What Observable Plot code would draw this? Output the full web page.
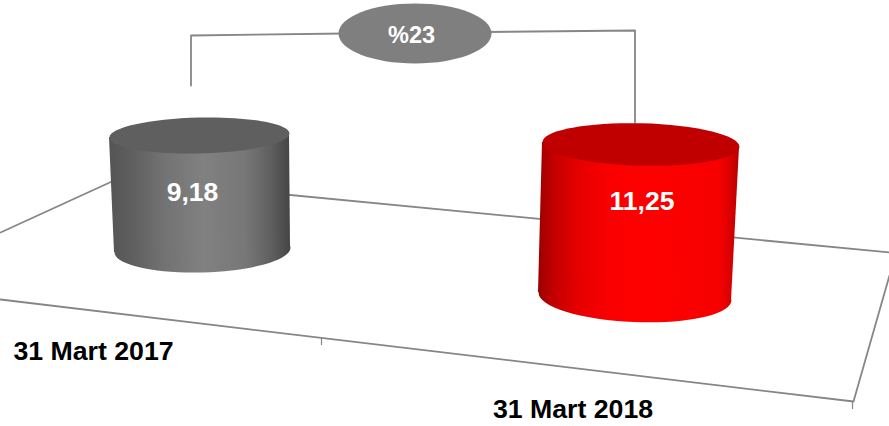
<!DOCTYPE html>
<html>
<head>
<meta charset="utf-8">
<script src="https://cdn.jsdelivr.net/npm/d3@7"></script>
<script src="https://cdn.jsdelivr.net/npm/@observablehq/plot@0.6"></script>
<style>
html,body{margin:0;padding:0;background:#fff;overflow:hidden}
svg{display:block}
</style>
</head>
<body>
<div id="chart"></div>
<script>
const categories = ["31 Mart 2017", "31 Mart 2018"];
const values = [9.18, 11.25];
const changeLabel = "%23";

// Readings from the picture, in the chart's own position frame
const categoryX = [93, 572.5];
const categoryY = [359.5, 417.5];
const valueX = [192, 641.5];
const valueY = [200.5, 209.5];
const topX = [199, 640.5];
const topY = [135, 144];
const baseX = [202, 634.5];
const baseY = [249.5, 296];
const bodyLeftX = [[109, 114], [542, 538]];
const bodyLeftY = [[137, 252], [142, 292]];
const bodyRightX = [[289, 290], [739, 731]];
const bodyRightY = [[133, 247], [147, 300]];
const topRx = [90, 98.5];
const baseRx = [88, 96.5];
const topAspect = [0.2, 0.215];
const baseAspect = [0.255, 0.265];
const topTilt = [-1.3, 1.5];
const baseTilt = [-1.6, 2.4];
const topFill = ["#5f5f5f", "#c00000"];
const bodyFill = ["url(#g0)", "url(#g1)"];
const baseFill = ["url(#b0)", "url(#b1)"];

const floorX = [0, 118, 889];
const floorY = [232, 178, 252];
const frontX = [0, 853, 889];
const frontY = [299, 401, 275];
const tickX = [321, 852];
const tickY1 = [337, 401];
const tickY2 = [345, 409];
const bracketLeftX = [190.5, 190.5, 345];
const bracketLeftY = [85, 35, 33];
const bracketRightX = [485, 634.5, 634.5];
const bracketRightY = [31.5, 30, 122];
const badge = {x: 414.5, y: 33, rx: 76.5, aspect: 0.392, labelX: 411, labelY: 42.5};

const ellipseSymbol = (aspect) => ({
  draw(ctx, size) {
    const r = Math.sqrt(size / Math.PI), ry = r * aspect, k = 0.5522848;
    ctx.moveTo(-r, 0);
    ctx.bezierCurveTo(-r, -ry * k, -r * k, -ry, 0, -ry);
    ctx.bezierCurveTo(r * k, -ry, r, -ry * k, r, 0);
    ctx.bezierCurveTo(r, ry * k, r * k, ry, 0, ry);
    ctx.bezierCurveTo(-r * k, ry, -r, ry * k, -r, 0);
    ctx.closePath();
  }
});

const gradients = () => {
  const ns = "http://www.w3.org/2000/svg";
  const defs = document.createElementNS(ns, "defs");
  const sets = [
    [[0, "#555555"], [0.12, "#5e5e5e"], [0.3, "#727272"], [0.52, "#818181"], [0.75, "#777777"], [0.9, "#5e5e5e"], [1, "#444444"]],
    [[0, "#9c0000"], [0.08, "#c40000"], [0.2, "#e60000"], [0.35, "#fa0000"], [0.55, "#ff0000"], [0.9, "#f70000"], [0.96, "#d80000"], [1, "#b40000"]]
  ];
  const add = (id, stops, x1, x2) => {
    const g = document.createElementNS(ns, "linearGradient");
    g.setAttribute("id", id);
    g.setAttribute("x1", x1);
    g.setAttribute("x2", x2);
    g.setAttribute("y1", 0);
    g.setAttribute("y2", 0);
    stops.forEach(([o, c]) => {
      const s = document.createElementNS(ns, "stop");
      s.setAttribute("offset", o);
      s.setAttribute("stop-color", c);
      g.appendChild(s);
    });
    defs.appendChild(g);
  };
  add("g0", sets[0], 0, 1);
  add("g1", sets[1], 0, 1);
  // the lower ellipses are narrower than the bodies: same bands, same place
  add("b0", sets[0], -0.028, 1);
  add("b1", sets[1], 0, 1.041);
  return defs;
};

const lineStyle = {stroke: "#868686", strokeWidth: 1.8};
const textStyle = {fontFamily: "'Liberation Sans', Arial, sans-serif", fontWeight: "bold"};

const cylinder = (i) => [
  Plot.area([0, 1], {
    x1: (j) => bodyLeftX[i][j], y1: (j) => bodyLeftY[i][j],
    x2: (j) => bodyRightX[i][j], y2: (j) => bodyRightY[i][j],
    fill: bodyFill[i]
  }),
  Plot.dot([i], {
    x: (d) => baseX[d], y: (d) => baseY[d], r: baseRx[i],
    symbol: ellipseSymbol(baseAspect[i]), rotate: baseTilt[i],
    fill: baseFill[i], stroke: "none"
  }),
  Plot.dot([i], {
    x: (d) => topX[d], y: (d) => topY[d], r: topRx[i],
    symbol: ellipseSymbol(topAspect[i]), rotate: topTilt[i],
    fill: topFill[i], stroke: "none"
  })
];

const plot = Plot.plot({
  width: 889,
  height: 426,
  margin: 0,
  style: {background: "#fff"},
  x: {domain: [0, 889], range: [0, 889], axis: null},
  y: {domain: [0, 426], range: [0, 426], axis: null},
  marks: [
    gradients,
    Plot.line(floorX, {x: floorX, y: floorY, ...lineStyle}),
    Plot.line(frontX, {x: frontX, y: frontY, ...lineStyle}),
    Plot.ruleX(tickX, {x: tickX, y1: tickY1, y2: tickY2, stroke: "#868686", strokeWidth: 1.2}),
    Plot.line(bracketLeftX, {x: bracketLeftX, y: bracketLeftY, ...lineStyle}),
    Plot.line(bracketRightX, {x: bracketRightX, y: bracketRightY, ...lineStyle}),
    ...cylinder(0),
    ...cylinder(1),
    Plot.dot([badge], {
      x: "x", y: "y", r: badge.rx, symbol: ellipseSymbol(badge.aspect),
      fill: "#7f7f7f", stroke: "none"
    }),
    Plot.text([changeLabel], {
      x: badge.labelX, y: badge.labelY, text: (d) => d, fill: "#fff",
      fontSize: 23.5, textAnchor: "middle", lineAnchor: "bottom", ...textStyle
    }),
    Plot.text(values, {
      x: valueX, y: valueY, text: (d) => d.toFixed(2).replace(".", ","),
      fill: "#fff", fontSize: 26.5, textAnchor: "middle", lineAnchor: "bottom", ...textStyle
    }),
    Plot.text(categories, {
      x: categoryX, y: categoryY, text: (d) => d,
      fill: "#000", fontSize: 26.7, textAnchor: "middle", lineAnchor: "bottom", ...textStyle
    })
  ]
});
document.getElementById("chart").appendChild(plot);
</script>
</body>
</html>
